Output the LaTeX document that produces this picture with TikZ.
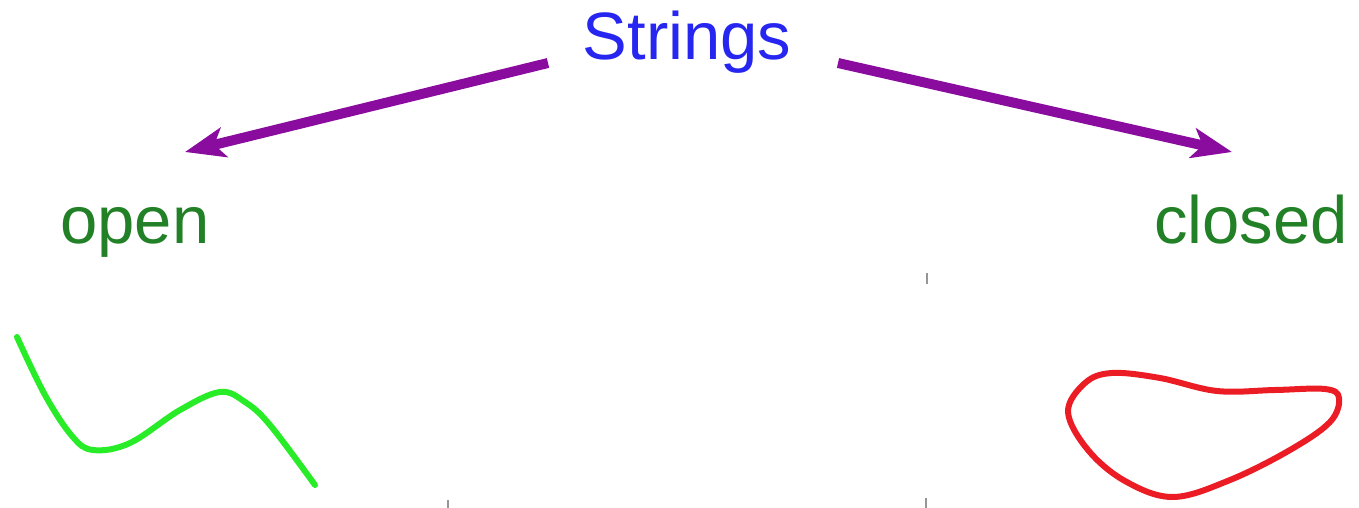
\documentclass[tikz,border=0pt]{standalone}
\usepackage{fontspec}
\setmainfont{Liberation Sans}
\usetikzlibrary{arrows.meta}
\definecolor{titleblue}{RGB}{38,38,240}
\definecolor{labelgreen}{RGB}{34,128,38}
\definecolor{branchpurple}{RGB}{138,12,158}
\definecolor{openline}{RGB}{40,236,40}
\definecolor{closedline}{RGB}{236,28,36}
\definecolor{tickgray}{RGB}{150,150,150}
\tikzset{
  title/.style={text=titleblue, inner sep=0pt, anchor=base,
    font=\fontsize{67}{80}\selectfont},
  kind/.style={text=labelgreen, inner sep=0pt, anchor=base,
    font=\fontsize{67}{80}\selectfont},
  branch/.style={draw=branchpurple, line width=10pt,
    -{Stealth[length=40pt,width=30pt,inset=10pt]}},
  stringline/.style={line width=6pt, line cap=round, line join=round},
  tick/.style={draw=tickgray, line width=1.6pt}
}
\begin{document}
\begin{tikzpicture}[x=1pt, y=-1pt]
  \useasboundingbox (0,0) rectangle (1359,508);

  % labels
  \node[title] (strings) at (687,60) {Strings};
  \node[kind] (open) at (135,243) {open};
  \node[kind] (closed) at (1251,243) {closed};

  % branch arrows
  \coordinate (lstart) at (548,63);
  \coordinate (lend) at (185,152);
  \coordinate (rstart) at (838,63);
  \coordinate (rend) at (1232,152);
  \draw[branch] (lstart) -- (lend);
  \draw[branch] (rstart) -- (rend);

  % open string
  \draw[stringline, draw=openline] plot[smooth, tension=0.6] coordinates
    {(17,337) (45,395) (72,436) (93,450) (130,443) (180,410) (220,392)
     (245,402) (270,425) (315,485)};

  % closed string
  \draw[stringline, draw=closedline] plot[smooth cycle, tension=0.6] coordinates
    {(1068,412) (1085,383) (1112,373) (1160,378) (1217,391) (1275,390)
     (1325,389) (1339,398) (1330,422) (1290,450) (1230,480) (1173,497)
     (1125,481) (1088,450)};

  % small ticks
  \draw[tick] (927,273) -- (927,284);
  \draw[tick] (926,498) -- (926,508);
  \draw[tick] (448,500) -- (448,508);
\end{tikzpicture}
\end{document}
